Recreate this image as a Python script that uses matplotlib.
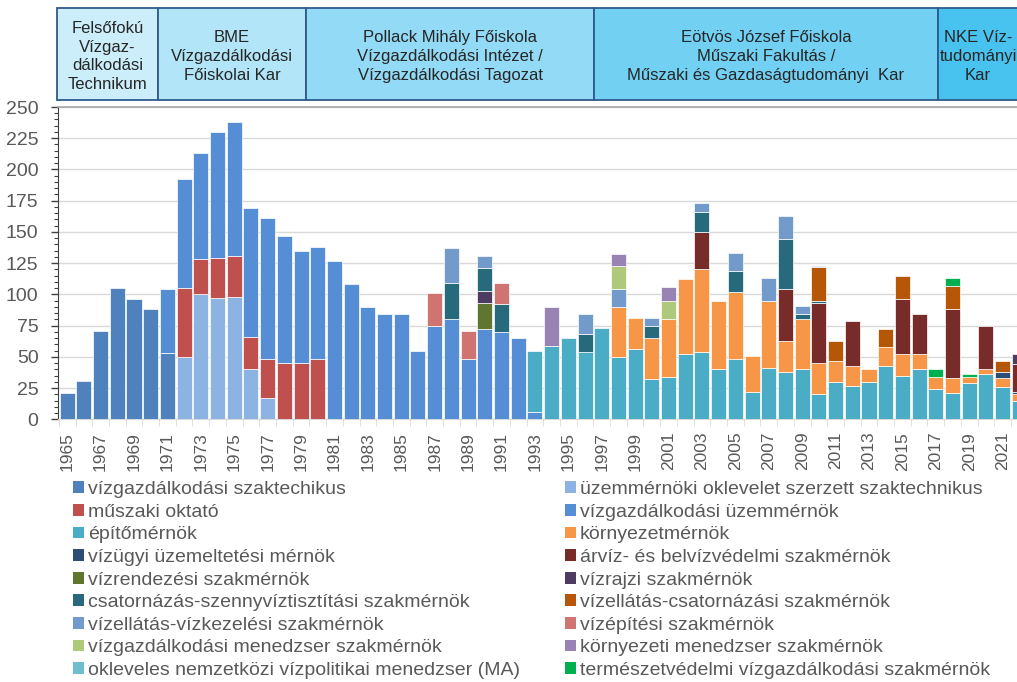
import numpy as np
import matplotlib
matplotlib.use("Agg")
import matplotlib.pyplot as plt
from matplotlib.patches import Patch, Rectangle

plt.rcParams['font.family'] = ['Liberation Sans', 'DejaVu Sans']

W, H = 1017, 682

years = np.arange(1965, 2023)

# graduates per year, one dict per qualification (year: count)
szaktechnikus = {1965: 21, 1966: 31, 1967: 71, 1968: 105, 1969: 96, 1970: 88, 1971: 53}
uzemmernoki_szaktechnikus = {1972: 50, 1973: 100, 1974: 97, 1975: 98, 1976: 40, 1977: 17}
muszaki_oktato = {1972: 55, 1973: 28, 1974: 32, 1975: 33, 1976: 26, 1977: 31,
                  1978: 45, 1979: 45, 1980: 48}
uzemmernok = {1971: 51, 1972: 87, 1973: 85, 1974: 101, 1975: 107, 1976: 103, 1977: 113,
              1978: 102, 1979: 90, 1980: 90, 1981: 127, 1982: 108, 1983: 90, 1984: 84,
              1985: 84, 1986: 55, 1987: 75, 1988: 80, 1989: 48, 1990: 72, 1991: 70,
              1992: 65, 1993: 6}
epitomernok = {1993: 49, 1994: 59, 1995: 65, 1996: 54, 1997: 73, 1998: 50, 1999: 56,
               2000: 32, 2001: 34, 2002: 52, 2003: 54, 2004: 40, 2005: 48, 2006: 22,
               2007: 41, 2008: 38, 2009: 40, 2010: 20, 2011: 30, 2012: 27, 2013: 30,
               2014: 43, 2015: 35, 2016: 40, 2017: 24, 2018: 21, 2019: 29, 2020: 36,
               2021: 26, 2022: 15}
kornyezetmernok = {1998: 40, 1999: 25, 2000: 33, 2001: 46, 2002: 60, 2003: 66, 2004: 55,
                   2005: 54, 2006: 29, 2007: 54, 2008: 25, 2009: 40, 2010: 25, 2011: 17,
                   2012: 16, 2013: 10, 2014: 15, 2015: 17, 2016: 12, 2017: 10, 2018: 12,
                   2019: 5, 2020: 4, 2021: 7, 2022: 5}
uzemeltetesi = {2021: 5, 2022: 2}
arviz = {2003: 30, 2008: 41, 2010: 48, 2012: 36, 2015: 44, 2016: 32, 2018: 55,
         2020: 35, 2022: 22}
vizrendezesi = {1990: 21}
vizrajzi = {1990: 10, 2022: 8}
csatornazas = {1988: 29, 1990: 18, 1991: 22, 1996: 14, 2000: 10, 2003: 16, 2005: 17,
               2008: 40, 2009: 4, 2010: 2}
vizellatas_csatornazasi = {2010: 27, 2011: 16, 2014: 14, 2015: 19, 2018: 19, 2021: 9}
vizellatas_vizkezelesi = {1988: 28, 1990: 10, 1996: 16, 1998: 14, 2000: 6, 2003: 7,
                          2005: 14, 2007: 18, 2008: 19, 2009: 7, 2010: 1}
vizepitesi = {1987: 26, 1989: 23, 1991: 17}
vizgazd_menedzser = {1998: 19, 2001: 15}
kornyezeti_menedzser = {1994: 31, 1998: 9, 2001: 11}
vizpolitikai_ma = {}
termeszetvedelmi = {2017: 6, 2018: 6, 2019: 2}

series = [
    ("vízgazdálkodási szaktechikus", szaktechnikus, "#4F81BD"),
    ("üzemmérnöki oklevelet szerzett szaktechnikus", uzemmernoki_szaktechnikus, "#8DB3E2"),
    ("műszaki oktató", muszaki_oktato, "#C0504D"),
    ("vízgazdálkodási üzemmérnök", uzemmernok, "#558ED5"),
    ("építőmérnök", epitomernok, "#4BACC6"),
    ("környezetmérnök", kornyezetmernok, "#F79646"),
    ("vízügyi üzemeltetési mérnök", uzemeltetesi, "#2C4D75"),
    ("árvíz- és belvízvédelmi szakmérnök", arviz, "#772C2A"),
    ("vízrendezési szakmérnök", vizrendezesi, "#5F7530"),
    ("vízrajzi szakmérnök", vizrajzi, "#4D3B62"),
    ("csatornázás-szennyvíztisztítási szakmérnök", csatornazas, "#276A7C"),
    ("vízellátás-csatornázási szakmérnök", vizellatas_csatornazasi, "#B65708"),
    ("vízellátás-vízkezelési szakmérnök", vizellatas_vizkezelesi, "#729ACA"),
    ("vízépítési szakmérnök", vizepitesi, "#D07472"),
    ("vízgazdálkodási menedzser szakmérnök", vizgazd_menedzser, "#AFC97A"),
    ("környezeti menedzser szakmérnök", kornyezeti_menedzser, "#9983B5"),
    ("okleveles nemzetközi vízpolitikai menedzser (MA)", vizpolitikai_ma, "#6FBDD1"),
    ("természetvédelmi vízgazdálkodási szakmérnök", termeszetvedelmi, "#00B050"),
]

institutions = [
    ("Felsőfokú\nVízgaz-\ndálkodási\nTechnikum", 57, 158, "#CBEEFA"),
    ("BME\nVízgazdálkodási\nFőiskolai Kar", 158, 306, "#B2E5F8"),
    ("Pollack Mihály Főiskola\nVízgazdálkodási Intézet /\nVízgazdálkodási Tagozat", 306, 594, "#92DAF5"),
    ("Eötvös József Főiskola\nMűszaki Fakultás /\nMűszaki és Gazdaságtudományi  Kar", 594, 938, "#72D0F3"),
    ("NKE Víz-\ntudományi\nKar", 938, 1018, "#48C2EE"),
]

fig = plt.figure(figsize=(W / 100, H / 100), dpi=100)
ax = fig.add_axes([58 / W, 1 - 419.3 / H, (W - 58) / W, (419.3 - 107) / H])

bottom = np.zeros(len(years))
handles = []
for label, data, color in series:
    vals = np.array([data.get(y, 0) for y in years], dtype=float)
    m = vals > 0
    if m.any():
        ax.bar(years[m], vals[m], 0.9, bottom=bottom[m], color=color,
               edgecolor="white", linewidth=0.5, zorder=3)
    bottom += vals
    handles.append(Patch(facecolor=color, label=label))

ax.set_xlim(1964.45, 2021.86)
ax.set_ylim(0, 250)

ax.set_yticks(np.arange(0, 251, 25))
ax.set_yticks(np.arange(0, 251, 5), minor=True)
ax.yaxis.grid(True, color="#D9D9D9", linewidth=1, zorder=0)
ax.tick_params(axis="y", which="major", length=5, width=1, color="#404040",
               labelsize=14, labelcolor="#595959", pad=9)
ax.tick_params(axis="y", which="minor", length=3, width=0.8, color="#404040")

ax.set_xticks(years[::2])
ax.set_xticklabels([str(y) for y in years[::2]], rotation=90)
ax.set_xticks(np.arange(1964.5, 2022.5, 1), minor=True)
ax.tick_params(axis="x", which="major", length=0, labelsize=12.5,
               labelcolor="#595959", pad=9)
ax.tick_params(axis="x", which="minor", length=5, color="#D9D9D9")

ax.spines["left"].set_color("#404040")
ax.spines["bottom"].set_color("#D9D9D9")
ax.spines["top"].set_color("#A6A6A6")
ax.spines["top"].set_linewidth(1.2)
ax.spines["right"].set_visible(False)

# institution header boxes
for text, x0, x1, fc in institutions:
    fig.add_artist(Rectangle((x0 / W, 1 - 100 / H), (x1 - x0) / W, 92 / H,
                             transform=fig.transFigure, facecolor=fc,
                             edgecolor="#2F5B8C", linewidth=1.3))
    cx = (x0 + x1) / 2 if x1 < 1000 else 978
    fig.text(cx / W, 1 - 56.5 / H, text, ha="center", va="center", fontsize=12,
             color="#262626", linespacing=1.32)

leg_kw = dict(loc="upper left", frameon=False, fontsize=14, borderpad=0,
              borderaxespad=0, handlelength=0.55, handleheight=0.55,
              handletextpad=0.22, labelspacing=0.29, labelcolor="#595959")
fig.legend(handles=handles[0::2], bbox_to_anchor=(73 / W, 1 - 481 / H), **leg_kw)
fig.legend(handles=handles[1::2], bbox_to_anchor=(565 / W, 1 - 481 / H), **leg_kw)

fig.savefig("out.png", dpi=100)
